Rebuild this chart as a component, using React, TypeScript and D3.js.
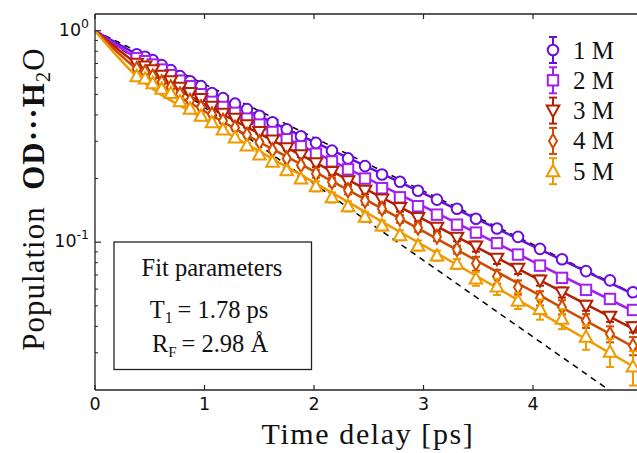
import React from "react";
import * as d3 from "d3";

// ---------- data ----------
const times = [0.381, 0.457, 0.527, 0.609, 0.692, 0.776, 0.868, 0.968, 1.068, 1.169, 1.279, 1.388, 1.502, 1.621, 1.751, 1.881, 2.018, 2.164, 2.311, 2.466, 2.621, 2.785, 2.95, 3.123, 3.306, 3.479, 3.671, 3.863, 4.064, 4.265, 4.484, 4.703, 4.913];

const seriesNames = ["1 M", "2 M", "3 M", "4 M", "5 M"];
const seriesColors = ["#6a0ee0", "#a020f0", "#b42000", "#d04a00", "#ee9a00"];
const seriesShapes = ["circle", "square", "triDown", "diamond", "triUp"];

const pop1M = [0.773, 0.753, 0.726, 0.688, 0.651, 0.61, 0.577, 0.547, 0.507, 0.48, 0.452, 0.426, 0.396, 0.369, 0.342, 0.317, 0.295, 0.271, 0.249, 0.229, 0.209, 0.193, 0.175, 0.159, 0.144, 0.129, 0.116, 0.106, 0.093, 0.083, 0.073, 0.066, 0.058];
const pop2M = [0.742, 0.718, 0.692, 0.655, 0.617, 0.581, 0.547, 0.501, 0.461, 0.436, 0.409, 0.384, 0.36, 0.332, 0.307, 0.284, 0.262, 0.241, 0.221, 0.2, 0.18, 0.163, 0.148, 0.135, 0.121, 0.111, 0.099, 0.0874, 0.0775, 0.0678, 0.0595, 0.0539, 0.0478];
const pop3M = [0.699, 0.677, 0.651, 0.613, 0.577, 0.538, 0.507, 0.475, 0.437, 0.405, 0.384, 0.357, 0.332, 0.303, 0.278, 0.258, 0.236, 0.215, 0.194, 0.175, 0.159, 0.145, 0.13, 0.117, 0.105, 0.0954, 0.0834, 0.0748, 0.0659, 0.0579, 0.0501, 0.0444, 0.0396];
const pop4M = [0.659, 0.637, 0.607, 0.571, 0.541, 0.501, 0.467, 0.435, 0.403, 0.375, 0.348, 0.322, 0.297, 0.272, 0.249, 0.231, 0.211, 0.1925, 0.176, 0.157, 0.144, 0.129, 0.117, 0.106, 0.0923, 0.0793, 0.0688, 0.0612, 0.0544, 0.0493, 0.0425, 0.0368, 0.0324];
const pop5M = [0.61, 0.594, 0.565, 0.532, 0.507, 0.464, 0.428, 0.396, 0.369, 0.341, 0.313, 0.287, 0.26, 0.24, 0.219, 0.2, 0.184, 0.163, 0.148, 0.132, 0.12, 0.108, 0.0965, 0.0865, 0.079, 0.0673, 0.0617, 0.0529, 0.0483, 0.0435, 0.0357, 0.0303, 0.0258];

const err1M = [0.0127, 0.0123, 0.0119, 0.0113, 0.0107, 0.01, 0.0095, 0.009, 0.0083, 0.0079, 0.0074, 0.007, 0.0065, 0.0061, 0.0056, 0.0052, 0.0048, 0.0044, 0.0041, 0.0038, 0.0057, 0.0053, 0.0048, 0.0043, 0.0039, 0.0035, 0.0032, 0.0029, 0.0025, 0.0023, 0.002, 0.0018, 0.0016];
const err2M = [0.012, 0.012, 0.011, 0.011, 0.01, 0.0095, 0.009, 0.0082, 0.0076, 0.0072, 0.0067, 0.0063, 0.0059, 0.0054, 0.005, 0.0047, 0.0043, 0.004, 0.0036, 0.0033, 0.0059, 0.0053, 0.0048, 0.0044, 0.004, 0.0036, 0.0032, 0.0029, 0.0034, 0.003, 0.0026, 0.0024, 0.0021];
const err3M = [0.015, 0.015, 0.014, 0.013, 0.013, 0.012, 0.011, 0.01, 0.0095, 0.0088, 0.0084, 0.0078, 0.0072, 0.0066, 0.0061, 0.0056, 0.009, 0.0082, 0.0074, 0.0067, 0.0061, 0.0055, 0.005, 0.0045, 0.004, 0.0052, 0.0045, 0.0041, 0.0036, 0.0032, 0.0027, 0.0024, 0.0022];
const err4M = [0.014, 0.014, 0.013, 0.012, 0.012, 0.011, 0.01, 0.0095, 0.0088, 0.0082, 0.0076, 0.007, 0.0065, 0.0059, 0.0054, 0.005, 0.0092, 0.0084, 0.0077, 0.0068, 0.0063, 0.0056, 0.0051, 0.0046, 0.004, 0.006, 0.0052, 0.0047, 0.0042, 0.0038, 0.0032, 0.0032, 0.0032];
const err5M = [0.017, 0.016, 0.015, 0.015, 0.014, 0.013, 0.012, 0.011, 0.01, 0.0093, 0.0085, 0.0078, 0.0071, 0.0066, 0.006, 0.0055, 0.01, 0.0089, 0.0081, 0.0072, 0.0065, 0.0059, 0.0053, 0.0047, 0.0043, 0.0051, 0.0054, 0.0046, 0.0053, 0.0047, 0.0047, 0.0046, 0.0048];

const fitTimes = [0, 0.38, 1, 2, 3, 4, 5];
const fit1M = [1, 0.775, 0.526, 0.2985, 0.170, 0.0959, 0.0541];
const fit2M = [1, 0.742, 0.485, 0.2676, 0.1477, 0.081, 0.0449];
const fit3M = [1, 0.699, 0.449, 0.2399, 0.1281, 0.0688, 0.0369];
const fit4M = [1, 0.659, 0.416, 0.2163, 0.1124, 0.0584, 0.0303];
const fit5M = [1, 0.61, 0.3815, 0.1918, 0.0965, 0.0485, 0.0244];

const refTimes = [0, 5];
const refSlow = [1, 0.0545];
const refFast = [1, 0.0155];

const xTicks = [0, 1, 2, 3, 4];
const yMajor = [1, 0.1];
const yMinor = [0.9, 0.8, 0.7, 0.6, 0.5, 0.4, 0.3, 0.2, 0.09, 0.08, 0.07, 0.06, 0.05, 0.04, 0.03];

const pops = [pop1M, pop2M, pop3M, pop4M, pop5M];
const errs = [err1M, err2M, err3M, err4M, err5M];
const fits = [fit1M, fit2M, fit3M, fit4M, fit5M];

// ---------- layout ----------
const W = 637, H = 453;
const left = 95, top = 14, bottom = 390;
const x = d3.scaleLinear().domain([0, 5]).range([left, left + 547.5]);
const y = d3.scaleLog().domain([0.02, 1.2]).range([bottom, top]);
const plotRight = x(5);

const serif = "'Liberation Serif', 'DejaVu Serif', serif";
const sans = "'DejaVu Sans', sans-serif";

function Marker({ shape, cx, cy, color }: { shape: string; cx: number; cy: number; color: string }) {
  const sw = 2;
  if (shape === "circle") return <circle cx={cx} cy={cy} r={5.3} fill="white" stroke={color} strokeWidth={sw} />;
  if (shape === "square") return <rect x={cx - 5.2} y={cy - 5.2} width={10.4} height={10.4} fill="white" stroke={color} strokeWidth={sw} />;
  if (shape === "triDown") return <path d={`M${cx - 6.3},${cy - 5}L${cx + 6.3},${cy - 5}L${cx},${cy + 6.3}Z`} fill="white" stroke={color} strokeWidth={sw} />;
  if (shape === "triUp") return <path d={`M${cx - 6.3},${cy + 5}L${cx + 6.3},${cy + 5}L${cx},${cy - 6.3}Z`} fill="white" stroke={color} strokeWidth={sw} />;
  return <path d={`M${cx},${cy - 7}L${cx + 4},${cy}L${cx},${cy + 7}L${cx - 4},${cy}Z`} fill="white" stroke={color} strokeWidth={sw} />;
}

export default function App() {
  const fitLine = d3
    .line<[number, number]>()
    .x((d) => x(d[0]))
    .y((d) => y(d[1]))
    .curve(d3.curveMonotoneX);
  const straight = d3
    .line<[number, number]>()
    .x((d) => x(d[0]))
    .y((d) => y(d[1]));

  return (
    <svg width={W} height={H} style={{ position: "absolute", left: 0, top: 0, background: "white" }}>
      <defs>
        <clipPath id="plot">
          <rect x={left} y={top} width={plotRight - left} height={bottom - top} />
        </clipPath>
      </defs>
      <g clipPath="url(#plot)">
        <path d={straight(refTimes.map((t, i) => [t, refSlow[i]]) as any) || ""} fill="none" stroke="black" strokeWidth={1.5} strokeDasharray="6,5" />
        <path d={straight(refTimes.map((t, i) => [t, refFast[i]]) as any) || ""} fill="none" stroke="black" strokeWidth={1.5} strokeDasharray="6,5" />
        {pops.map((p, si) => (
          <g key={si}>
            <path d={fitLine(fitTimes.map((t, i) => [t, fits[si][i]]) as any) || ""} fill="none" stroke={seriesColors[si]} strokeWidth={2.5} />
            {p.map((v, i) => {
              const e = errs[si][i];
              const cx = x(times[i]);
              const y1 = y(v + e), y2 = y(Math.max(v - e, 0.001));
              return (
                <g key={i} stroke={seriesColors[si]} strokeWidth={2}>
                  <line x1={cx} x2={cx} y1={y1} y2={y2} />
                  <line x1={cx - 4} x2={cx + 4} y1={y1} y2={y1} />
                  <line x1={cx - 4} x2={cx + 4} y1={y2} y2={y2} />
                </g>
              );
            })}
            {p.map((v, i) => (
              <Marker key={"m" + i} shape={seriesShapes[si]} cx={x(times[i])} cy={y(v)} color={seriesColors[si]} />
            ))}
          </g>
        ))}
      </g>

      {/* frame */}
      <line x1={left} x2={left} y1={top} y2={bottom} stroke="#222" strokeWidth={1.3} />
      <line x1={left} x2={W} y1={bottom} y2={bottom} stroke="#222" strokeWidth={1.3} />
      <line x1={left} x2={W} y1={top} y2={top} stroke="#222" strokeWidth={1.3} />

      {/* x ticks */}
      {xTicks.map((t) => (
        <g key={"xt" + t}>
          <line x1={x(t)} x2={x(t)} y1={bottom} y2={bottom - 5} stroke="#222" strokeWidth={1.2} />
          <line x1={x(t)} x2={x(t)} y1={top} y2={top + 5} stroke="#222" strokeWidth={1.2} />
          <text x={x(t)} y={410} textAnchor="middle" fontFamily={sans} fontSize={17.5} fill="#111">
            {t}
          </text>
        </g>
      ))}

      {/* y ticks */}
      {yMajor.map((v) => (
        <line key={"ym" + v} x1={left} x2={left + 6} y1={y(v)} y2={y(v)} stroke="#222" strokeWidth={1.2} />
      ))}
      {yMinor.map((v) => (
        <line key={"yn" + v} x1={left} x2={left + 3} y1={y(v)} y2={y(v)} stroke="#222" strokeWidth={1} />
      ))}
      <text x={89} y={y(1) + 5} textAnchor="end" fontFamily={sans} fontSize={17.5} fill="#111">
        10<tspan dy={-8} fontSize={12.5}>0</tspan>
      </text>
      <text x={89} y={y(0.1) + 5} textAnchor="end" fontFamily={sans} fontSize={17.5} fill="#111">
        10<tspan dy={-8} fontSize={12.5}>-1</tspan>
      </text>

      {/* axis titles */}
      <text x={368} y={444} textAnchor="middle" fontFamily={serif} fontSize={30} letterSpacing={1.6} fill="#111">
        Time delay [ps]
      </text>
      <text transform="translate(44,199) rotate(-90)" textAnchor="middle" fontFamily={serif} fontSize={31} letterSpacing={1} fill="#111">
        Population{"\u2002"}
        <tspan fontWeight="bold">OD···H</tspan>
        <tspan fontSize={21} dy={6}>2</tspan>
        <tspan dy={-6}>O</tspan>
      </text>

      {/* inset box */}
      <rect x={114} y={242} width={197.5} height={127.5} fill="white" stroke="#222" strokeWidth={1.3} />
      <text x={212} y={276} textAnchor="middle" fontFamily={serif} fontSize={24.5} fill="#111">
        Fit parameters
      </text>
      <text x={209} y={318} textAnchor="middle" fontFamily={serif} fontSize={24.5} fill="#111">
        T<tspan fontSize={16} dy={5}>1</tspan>
        <tspan dy={-5}>{"\u2009= 1.78 ps"}</tspan>
      </text>
      <text x={210} y={352} textAnchor="middle" fontFamily={serif} fontSize={24.5} fill="#111">
        R<tspan fontSize={15} dy={5}>F</tspan>
        <tspan dy={-5}>{"\u2009= 2.98 Å"}</tspan>
      </text>

      {/* legend */}
      {seriesNames.map((name, i) => {
        const ly = 50 + i * 30.3;
        const lx = 553;
        const c = seriesColors[i];
        return (
          <g key={"lg" + i}>
            <g stroke={c} strokeWidth={2}>
              <line x1={lx} x2={lx} y1={ly - 13} y2={ly + 13} />
              <line x1={lx - 4} x2={lx + 4} y1={ly - 13} y2={ly - 13} />
              <line x1={lx - 4} x2={lx + 4} y1={ly + 13} y2={ly + 13} />
            </g>
            <Marker shape={seriesShapes[i]} cx={lx} cy={ly} color={c} />
            <text x={573} y={ly + 8.5} fontFamily={serif} fontSize={25} fill="#111">
              {name}
            </text>
          </g>
        );
      })}
    </svg>
  );
}
